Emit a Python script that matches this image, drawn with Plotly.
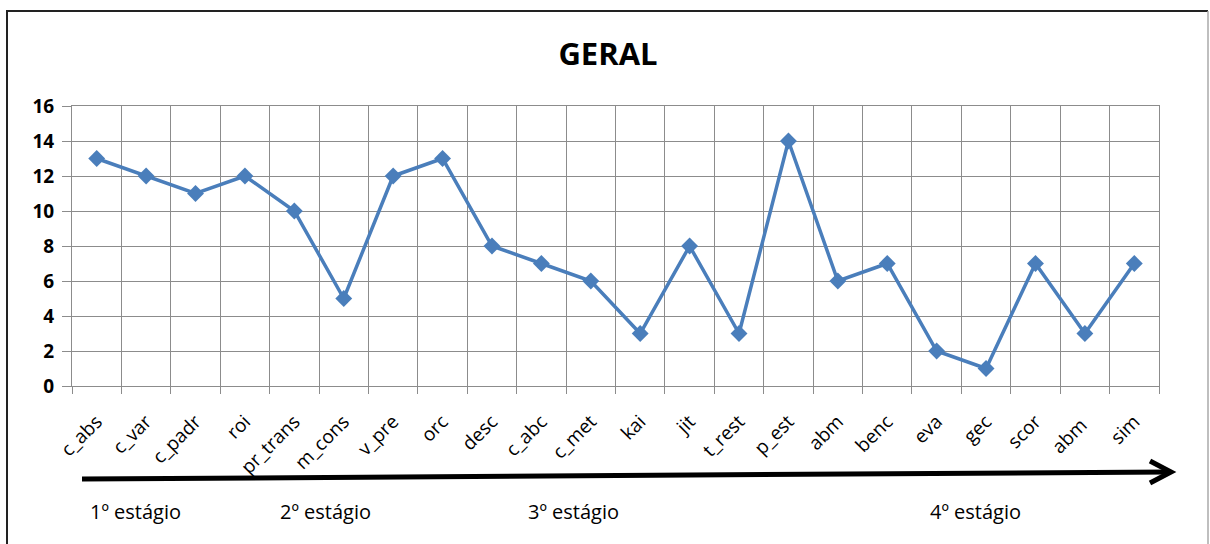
import plotly.graph_objects as go

# ---- data ----
categories = ["c_abs", "c_var", "c_padr", "roi", "pr_trans", "m_cons", "v_pre", "orc",
              "desc", "c_abc", "c_met", "kai", "jit", "t_rest", "p_est", "abm", "benc",
              "eva", "gec", "scor", "abm", "sim"]
values = [13, 12, 11, 12, 10, 5, 12, 13, 8, 7, 6, 3, 8, 3, 14, 6, 7, 2, 1, 7, 3, 7]
stage_labels = ["1º estágio", "2º estágio", "3º estágio", "4º estágio"]
title_text = "GERAL"

# unique keys for the category axis (two "abm" entries)
keys = []
for c in categories:
    k = c
    while k in keys:
        k = k + " "
    keys.append(k)

# ---- layout geometry (pixels) ----
W, H = 1210, 544
ML, MR, MT, MB = 72, 51, 106, 158
PW, PH = W - ML - MR, H - MT - MB

def fx(p):
    return (p - ML) / PW

def fy(p):
    return (H - MB - p) / PH

BLUE = "#4A7EBB"
GRID = "#8C8C8C"
FONT = "Open Sans"

fig = go.Figure()
fig.add_trace(go.Scatter(
    x=keys, y=values, mode="lines+markers",
    line=dict(color=BLUE, width=3.5),
    marker=dict(symbol="diamond", size=13, color=BLUE),
    showlegend=False, hoverinfo="x+y",
))

shapes = []
# outer chart border
shapes.append(dict(type="line", xref="paper", yref="paper", x0=fx(7), x1=fx(7), y0=fy(11), y1=fy(560),
                   line=dict(color="#222222", width=2)))
shapes.append(dict(type="line", xref="paper", yref="paper", x0=fx(6), x1=fx(1208), y0=fy(11), y1=fy(11),
                   line=dict(color="#222222", width=2)))
shapes.append(dict(type="line", xref="paper", yref="paper", x0=fx(1208), x1=fx(1208), y0=fy(11), y1=fy(560),
                   line=dict(color="#AAAAAA", width=1.5)))
# big arrow
shapes.append(dict(type="line", xref="paper", yref="paper", x0=fx(82), y0=fy(479), x1=fx(1169), y1=fy(472),
                   line=dict(color="black", width=5)))
shapes.append(dict(type="path", xref="paper", yref="paper",
                   path=f"M {fx(1150)},{fy(461)} L {fx(1171)},{fy(472)} L {fx(1150)},{fy(483)}",
                   line=dict(color="black", width=5)))

annotations = []
stage_x = [135, 325, 573, 975]
for lab, sx in zip(stage_labels, stage_x):
    annotations.append(dict(text=lab, xref="paper", yref="paper", x=fx(sx), y=fy(511),
                            xanchor="center", yanchor="middle", showarrow=False,
                            font=dict(family=FONT, size=20, color="black")))

fig.update_layout(
    width=W, height=H,
    margin=dict(l=ML, r=MR, t=MT, b=MB),
    paper_bgcolor="white", plot_bgcolor="white",
    title=dict(text=title_text, x=608 / W, xref="container", xanchor="center",
               y=1 - 54 / H, yref="container", yanchor="middle",
               font=dict(family=FONT, size=31, color="black", weight="bold")),
    shapes=shapes,
    annotations=annotations,
    xaxis=dict(type="category", categoryorder="array", categoryarray=keys,
               tickson="boundaries", showgrid=True, gridcolor=GRID, gridwidth=1,
               ticks="outside", ticklen=7, tickcolor=GRID,
               showline=True, linecolor=GRID, linewidth=1, mirror=True,
               tickangle=-45, ticklabelstandoff=16,
               tickfont=dict(family=FONT, size=19, color="black"),
               range=[-0.5, len(keys) - 0.5], zeroline=False),
    yaxis=dict(range=[0, 16], dtick=2, tick0=0, showgrid=True, gridcolor=GRID, gridwidth=1,
               ticks="outside", ticklen=9, tickcolor=GRID, ticklabelstandoff=4,
               showline=True, linecolor=GRID, linewidth=1, mirror=True, zeroline=False,
               tickfont=dict(family=FONT, size=19, color="black", weight="bold")),
)

fig.write_html("out.html")
